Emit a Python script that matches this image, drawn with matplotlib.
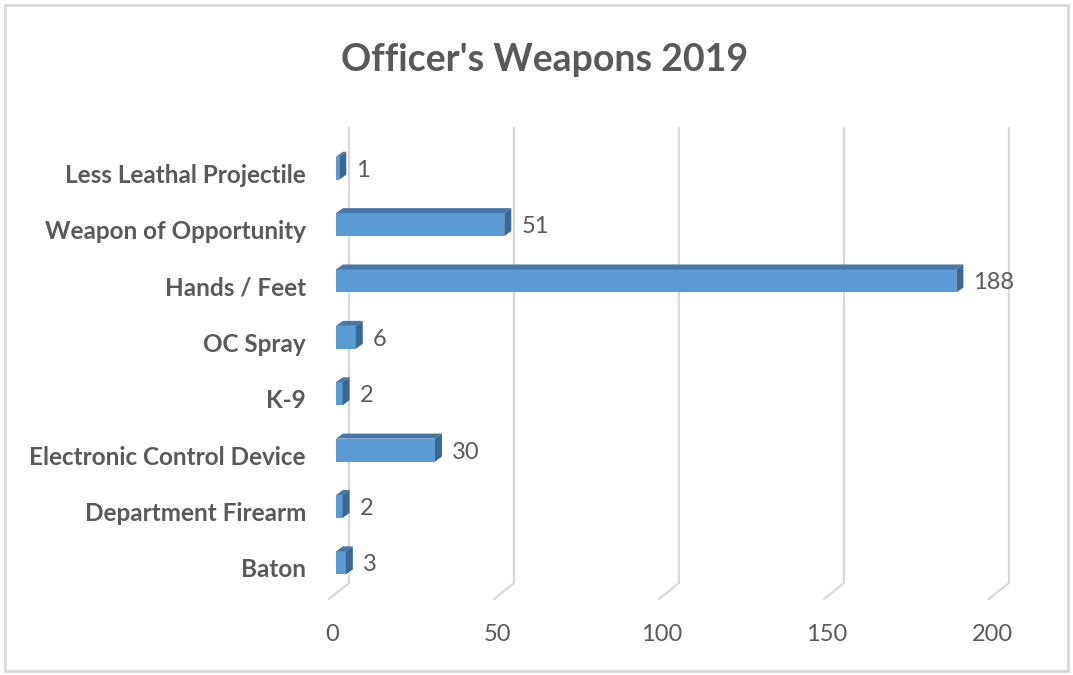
import matplotlib.pyplot as plt
from matplotlib.patches import Polygon, Rectangle
from matplotlib.lines import Line2D

categories = ['Baton', 'Department Firearm', 'Electronic Control Device', 'K-9',
              'OC Spray', 'Hands / Feet', 'Weapon of Opportunity', 'Less Leathal Projectile']
counts = [3, 2, 30, 2, 6, 188, 51, 1]
ticks = [0, 50, 100, 150, 200]

plt.rcParams['font.family'] = ['Lato', 'DejaVu Sans']
grey = '#595959'

fig = plt.figure(figsize=(10.73, 6.75), dpi=100)
W, H = 1073, 675

# chart border
fig.patches.append(Rectangle((5 / W, 4 / H), 1063 / W, 666 / H, transform=fig.transFigure,
                             fill=False, edgecolor='#D9D9D9', lw=2))

ax = fig.add_axes([0.3131, 0.1244, 0.6151, 0.6681])
ax.set_xlim(0, 200)
ax.set_ylim(-0.5, 7.5)
ax.axis('off')

# pixel -> data unit conversion
px_x = W * 0.6151 / 200
px_y = H * 0.6681 / 8

# floor/back gridlines
for t in ticks:
    xb = t + 13 / px_x
    y_top = 7.5 + 12 / px_y
    y_floor = -0.5 + 8 / px_y
    ax.add_line(Line2D([xb, xb, t - 7 / px_x], [y_top, y_floor, y_floor - 16 / px_y],
                       color='#D9D9D9', lw=1.6, clip_on=False, zorder=1))
    ax.text(t - 4 / px_x, -0.5 - 43 / px_y, str(t), ha='center', va='center',
            fontsize=17, color=grey, clip_on=False)

# 3D-looking bars
h = 23 / px_y
dx, dy = 7 / px_x, 5 / px_y
for i, (cat, v) in enumerate(zip(categories, counts)):
    y0, y1 = i - h / 2, i + h / 2
    front = Polygon([(0, y0), (v, y0), (v, y1), (0, y1)], closed=True,
                    facecolor='#5B9BD5', edgecolor='none', zorder=3)
    top = Polygon([(0, y1), (v, y1), (v + dx, y1 + dy), (dx, y1 + dy)], closed=True,
                  facecolor='#4677A8', edgecolor='none', zorder=3)
    side = Polygon([(v, y0), (v + dx, y0 + dy), (v + dx, y1 + dy), (v, y1)], closed=True,
                   facecolor='#3A6895', edgecolor='none', zorder=3)
    for p in (front, top, side):
        ax.add_patch(p)
    ax.text(v + 17 / px_x, i - 2 / px_y, str(v), ha='left', va='center',
            fontsize=17, color=grey, clip_on=False)
    ax.text(-30 / px_x, i - 7 / px_y, cat, ha='right', va='center',
            fontsize=17.5, fontweight='bold', color=grey, clip_on=False)

fig.text(545 / W, 1 - 60 / H, "Officer's Weapons 2019", ha='center', va='center',
         fontsize=27, fontweight='bold', color=grey)

fig.savefig('out.png', dpi=100)
